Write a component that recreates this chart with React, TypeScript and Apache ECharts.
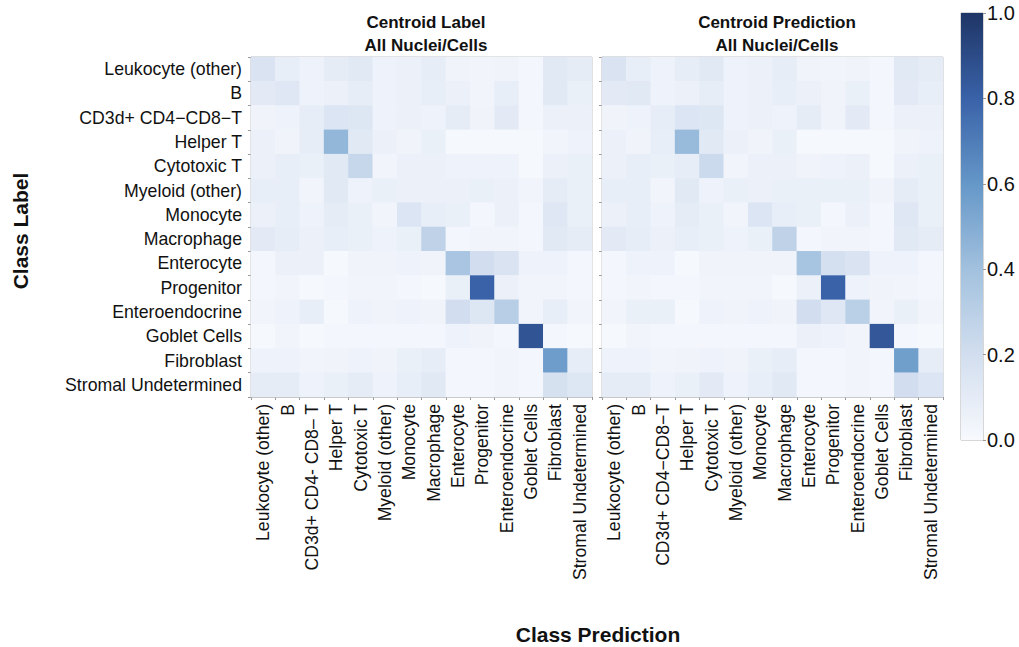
import React, { useEffect, useRef } from "react";
import * as echarts from "echarts";

const rowLabels = [
  "Leukocyte (other)", "B", "CD3d+ CD4−CD8−T", "Helper T", "Cytotoxic T", "Myeloid (other)",
  "Monocyte", "Macrophage", "Enterocyte", "Progenitor", "Enteroendocrine", "Goblet Cells",
  "Fibroblast", "Stromal Undetermined",
];
const colLabelsLeft = [
  "Leukocyte (other)", "B", "CD3d+ CD4- CD8– T", "Helper T", "Cytotoxic T", "Myeloid (other)",
  "Monocyte", "Macrophage", "Enterocyte", "Progenitor", "Enteroendocrine", "Goblet Cells",
  "Fibroblast", "Stromal Undetermined",
];
const colLabelsRight = [
  "Leukocyte (other)", "B", "CD3d+ CD4−CD8−T", "Helper T", "Cytotoxic T", "Myeloid (other)",
  "Monocyte", "Macrophage", "Enterocyte", "Progenitor", "Enteroendocrine", "Goblet Cells",
  "Fibroblast", "Stromal Undetermined",
];

const labelMatrix = [
  [0.16, 0.08, 0.05, 0.10, 0.12, 0.05, 0.06, 0.09, 0.04, 0.03, 0.04, 0.02, 0.12, 0.10],
  [0.11, 0.13, 0.05, 0.06, 0.09, 0.05, 0.06, 0.08, 0.06, 0.03, 0.08, 0.02, 0.12, 0.07],
  [0.04, 0.05, 0.09, 0.15, 0.14, 0.05, 0.06, 0.05, 0.10, 0.04, 0.11, 0.02, 0.06, 0.06],
  [0.06, 0.04, 0.09, 0.45, 0.12, 0.06, 0.04, 0.07, 0.01, 0.01, 0.01, 0.01, 0.03, 0.05],
  [0.06, 0.08, 0.07, 0.12, 0.25, 0.03, 0.06, 0.06, 0.05, 0.05, 0.05, 0.01, 0.06, 0.07],
  [0.08, 0.08, 0.03, 0.12, 0.05, 0.07, 0.06, 0.06, 0.06, 0.07, 0.06, 0.03, 0.10, 0.07],
  [0.06, 0.08, 0.05, 0.10, 0.07, 0.03, 0.15, 0.08, 0.07, 0.02, 0.06, 0.02, 0.13, 0.07],
  [0.11, 0.09, 0.06, 0.08, 0.07, 0.05, 0.07, 0.28, 0.02, 0.03, 0.03, 0.02, 0.12, 0.10],
  [0.02, 0.06, 0.06, 0.01, 0.04, 0.04, 0.05, 0.04, 0.37, 0.20, 0.16, 0.05, 0.05, 0.02],
  [0.02, 0.03, 0.01, 0.02, 0.03, 0.03, 0.02, 0.01, 0.07, 0.80, 0.06, 0.03, 0.03, 0.02],
  [0.03, 0.05, 0.08, 0.01, 0.05, 0.04, 0.05, 0.04, 0.20, 0.14, 0.31, 0.03, 0.08, 0.03],
  [0.01, 0.03, 0.01, 0.02, 0.02, 0.02, 0.02, 0.02, 0.05, 0.04, 0.02, 0.86, 0.02, 0.01],
  [0.05, 0.05, 0.03, 0.04, 0.05, 0.04, 0.07, 0.09, 0.02, 0.02, 0.03, 0.02, 0.57, 0.09],
  [0.10, 0.10, 0.05, 0.07, 0.10, 0.05, 0.08, 0.12, 0.02, 0.02, 0.03, 0.02, 0.18, 0.14],
];

const predMatrix = [
  [0.16, 0.08, 0.05, 0.09, 0.12, 0.05, 0.06, 0.09, 0.04, 0.03, 0.04, 0.02, 0.12, 0.10],
  [0.11, 0.12, 0.05, 0.06, 0.09, 0.05, 0.06, 0.08, 0.06, 0.04, 0.07, 0.02, 0.11, 0.08],
  [0.04, 0.05, 0.09, 0.15, 0.14, 0.05, 0.06, 0.05, 0.10, 0.04, 0.11, 0.02, 0.06, 0.06],
  [0.06, 0.04, 0.08, 0.43, 0.12, 0.06, 0.04, 0.07, 0.01, 0.01, 0.01, 0.01, 0.04, 0.05],
  [0.06, 0.08, 0.07, 0.09, 0.23, 0.03, 0.06, 0.06, 0.04, 0.05, 0.06, 0.01, 0.06, 0.07],
  [0.08, 0.08, 0.03, 0.12, 0.05, 0.07, 0.06, 0.07, 0.07, 0.07, 0.07, 0.04, 0.10, 0.07],
  [0.06, 0.08, 0.05, 0.10, 0.07, 0.03, 0.15, 0.08, 0.07, 0.02, 0.06, 0.02, 0.13, 0.07],
  [0.11, 0.09, 0.06, 0.08, 0.07, 0.05, 0.07, 0.28, 0.02, 0.03, 0.03, 0.02, 0.12, 0.10],
  [0.02, 0.05, 0.05, 0.01, 0.04, 0.04, 0.04, 0.04, 0.38, 0.19, 0.16, 0.05, 0.05, 0.02],
  [0.02, 0.03, 0.02, 0.02, 0.03, 0.03, 0.03, 0.01, 0.06, 0.80, 0.05, 0.04, 0.03, 0.02],
  [0.03, 0.07, 0.07, 0.01, 0.05, 0.04, 0.05, 0.04, 0.20, 0.13, 0.30, 0.03, 0.07, 0.03],
  [0.01, 0.03, 0.02, 0.02, 0.02, 0.02, 0.02, 0.02, 0.06, 0.05, 0.03, 0.85, 0.02, 0.01],
  [0.05, 0.05, 0.03, 0.04, 0.05, 0.04, 0.07, 0.09, 0.02, 0.02, 0.03, 0.02, 0.56, 0.09],
  [0.10, 0.10, 0.05, 0.07, 0.11, 0.05, 0.08, 0.12, 0.02, 0.02, 0.03, 0.02, 0.20, 0.15],
];

const colorbarTicks = [0, 0.2, 0.4, 0.6, 0.8, 1.0];
const colorStops = ["#f7f9fd", "#d2deef", "#a2c1de", "#6597c8", "#3962a8", "#1f3566"];

const FONT = "Liberation Sans, Arial, Helvetica, sans-serif";

function toCells(m: number[][]) {
  const out: [number, number, number][] = [];
  m.forEach((row, r) => row.forEach((v, c) => out.push([c, r, v])));
  return out;
}

export default function App() {
  const ref = useRef<HTMLDivElement>(null);
  useEffect(() => {
    if (!ref.current) return;
    const chart = echarts.init(ref.current, null, { renderer: "svg" });
    const gridTop = 57;
    const gridH = 340;
    const axisCommonX = (labels: string[], gi: number) => ({
      type: "category" as const,
      gridIndex: gi,
      data: labels,
      axisLine: { show: true, lineStyle: { color: "#bcbcbc" } },
      axisTick: { show: true, length: 3, inside: false, lineStyle: { color: "#999" } },
      axisLabel: {
        rotate: 90,
        interval: 0,
        fontSize: 17.6,
        color: "#111",
        fontFamily: FONT,
        margin: 7,
      },
      splitLine: { show: false },
    });
    const axisCommonY = (gi: number, showLabels: boolean) => ({
      type: "category" as const,
      gridIndex: gi,
      data: rowLabels,
      inverse: true,
      axisLine: { show: true, lineStyle: { color: "#bcbcbc" } },
      axisTick: { show: true, length: 3, lineStyle: { color: "#999" } },
      axisLabel: {
        show: showLabels,
        interval: 0,
        fontSize: 17.7,
        color: "#111",
        fontFamily: FONT,
        margin: 9,
      },
      splitLine: { show: false },
    });
    chart.setOption({
      animation: false,
      backgroundColor: "#ffffff",
      grid: [
        { left: 251, top: gridTop, width: 341, height: gridH, show: true, borderColor: "#bcbcbc", borderWidth: 1, backgroundColor: "transparent" },
        { left: 602, top: gridTop, width: 341, height: gridH, show: true, borderColor: "#bcbcbc", borderWidth: 1, backgroundColor: "transparent" },
        { left: 961, top: 13, width: 22, height: 427, show: true, borderColor: "#b0b0b0", borderWidth: 1, backgroundColor: "transparent" },
      ],
      xAxis: [
        axisCommonX(colLabelsLeft, 0),
        axisCommonX(colLabelsRight, 1),
        { type: "category", gridIndex: 2, data: ["c"], show: false },
      ],
      yAxis: [
        axisCommonY(0, true),
        axisCommonY(1, false),
        {
          type: "value",
          gridIndex: 2,
          min: 0,
          max: 1,
          interval: 0.2,
          position: "right",
          axisLine: { show: false },
          axisTick: { show: true, length: 3, inside: false, lineStyle: { color: "#999" } },
          splitLine: { show: false },
          axisLabel: {
            fontSize: 20,
            color: "#111",
            fontFamily: FONT,
            margin: 4,
            formatter: (v: number) => v.toFixed(1),
            customValues: colorbarTicks,
          },
        },
      ],
      visualMap: {
        show: false,
        min: 0,
        max: 1,
        seriesIndex: [0, 1],
        dimension: 2,
        inRange: { color: colorStops },
      },
      title: [
        {
          text: "Centroid Label\nAll Nuclei/Cells",
          left: 421,
          top: 6,
          textAlign: "center",
          textStyle: { fontSize: 17, fontWeight: "bold", fontFamily: FONT, color: "#111", lineHeight: 23 },
        },
        {
          text: "Centroid Prediction\nAll Nuclei/Cells",
          left: 772,
          top: 6,
          textAlign: "center",
          textStyle: { fontSize: 17, fontWeight: "bold", fontFamily: FONT, color: "#111", lineHeight: 23 },
        },
      ],
      graphic: [
        {
          type: "text",
          x: 20,
          y: 231,
          rotation: Math.PI / 2,
          style: {
            text: "Class Label",
            fontSize: 21,
            fontWeight: "bold",
            fontFamily: FONT,
            fill: "#111",
            align: "center",
            verticalAlign: "middle",
          },
        },
        {
          type: "text",
          x: 598,
          y: 634,
          style: {
            text: "Class Prediction",
            fontSize: 21,
            fontWeight: "bold",
            fontFamily: FONT,
            fill: "#111",
            align: "center",
            verticalAlign: "middle",
          },
        },
      ],
      series: [
        {
          type: "heatmap",
          xAxisIndex: 0,
          yAxisIndex: 0,
          data: toCells(labelMatrix),
          itemStyle: { borderWidth: 0 },
          emphasis: { disabled: true },
        },
        {
          type: "heatmap",
          xAxisIndex: 1,
          yAxisIndex: 1,
          data: toCells(predMatrix),
          itemStyle: { borderWidth: 0 },
          emphasis: { disabled: true },
        },
        {
          type: "bar",
          xAxisIndex: 2,
          yAxisIndex: 2,
          data: [1],
          barWidth: "100%",
          itemStyle: {
            color: new echarts.graphic.LinearGradient(0, 0, 0, 1, colorStops
              .slice()
              .reverse()
              .map((c, i, arr) => ({ offset: i / (arr.length - 1), color: c }))),
          },
          silent: true,
        },
      ],
    });
    return () => chart.dispose();
  }, []);
  return (
    <div
      ref={ref}
      style={{ position: "absolute", left: 0, top: 0, width: 1019, height: 647 }}
    />
  );
}
